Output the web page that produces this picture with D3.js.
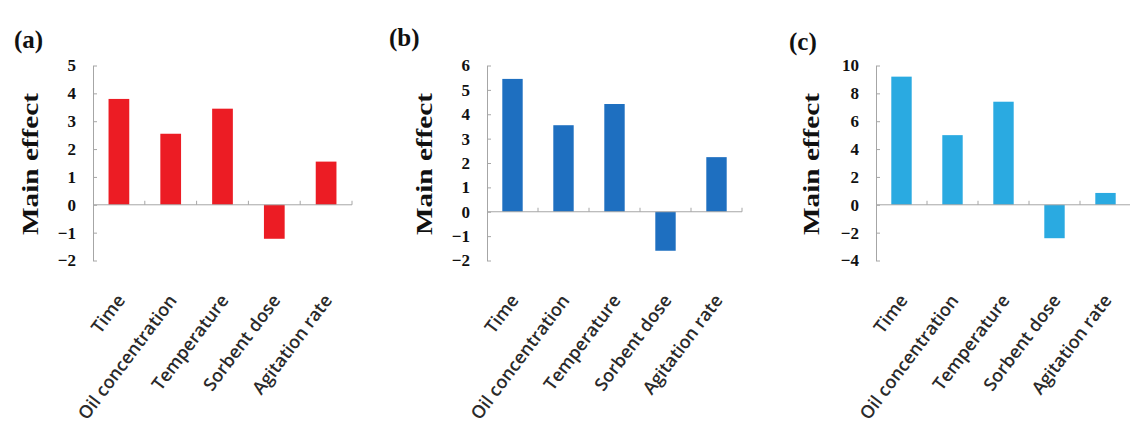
<!DOCTYPE html>
<html>
<head>
<meta charset="utf-8">
<script src="https://cdn.jsdelivr.net/npm/d3@7"></script>
<style>
  body { margin: 0; background: #fff; }
  .tick-num { font-family: "Liberation Serif", "DejaVu Serif", serif; font-weight: bold; font-size: 17px; fill: #111; }
  .ylab { font-family: "Liberation Serif", "DejaVu Serif", serif; font-weight: bold; font-size: 24px; fill: #111; }
  .panel-tag { font-family: "Liberation Serif", "DejaVu Serif", serif; font-weight: bold; font-size: 25px; fill: #111; }
  .cat { font-family: "Open Sans", "Liberation Sans", sans-serif; font-size: 18px; font-weight: 600; fill: #2a2a2a; }
</style>
</head>
<body>
<div id="chart"></div>
<script>
// factors on the x axis
const factors = ["Time", "Oil concentration", "Temperature", "Sorbent dose", "Agitation rate"];

// main effect per factor, one array per panel
const effectsA = [3.8, 2.55, 3.45, -1.22, 1.55];
const effectsB = [5.45, 3.55, 4.42, -1.6, 2.24];
const effectsC = [9.2, 5.0, 7.4, -2.4, 0.85];

// y ticks per panel
const ticksA = [-2, -1, 0, 1, 2, 3, 4, 5];
const ticksB = [-2, -1, 0, 1, 2, 3, 4, 5, 6];
const ticksC = [-4, -2, 0, 2, 4, 6, 8, 10];

const tags = ["(a)", "(b)", "(c)"];
const colors = ["#ec1c24", "#1e6fc0", "#2aaae1"];

const width = 1130, height = 428;
const svg = d3.select("#chart").append("svg")
    .attr("width", width)
    .attr("height", height);

// layout for each panel
const panels = [
    { tag: tags[0], values: effectsA, ticks: ticksA, color: colors[0], x0: 93, x1: 352, ylabX: 30, tagX: 14, tagY: 48 },
    { tag: tags[1], values: effectsB, ticks: ticksB, color: colors[1], x0: 487, x1: 742, ylabX: 424, tagX: 389, tagY: 46 },
    { tag: tags[2], values: effectsC, ticks: ticksC, color: colors[2], x0: 876, x1: 1131, ylabX: 811, tagX: 789, tagY: 50 }
];

const plotTop = 65.5, plotBottom = 260.5;

panels.forEach(p => {
    let g = svg.append("g");

    let y = d3.scaleLinear()
        .domain(d3.extent(p.ticks))
        .range([plotBottom, plotTop]);

    let x = d3.scaleBand()
        .domain(factors)
        .range([p.x0, p.x1])
        .paddingInner(0.6)
        .paddingOuter(0.3);

    let data = factors.map((f, i) => ({ factor: f, value: p.values[i] }));

    // bars
    g.selectAll(".bar")
        .data(data)
        .enter()
        .append("rect")
        .attr("class", "bar")
        .attr("x", d => x(d.factor))
        .attr("width", x.bandwidth())
        .attr("y", d => y(Math.max(0, d.value)))
        .attr("height", d => Math.abs(y(d.value) - y(0)))
        .attr("fill", p.color);

    // y axis
    let yAxis = g.append("g")
        .attr("transform", `translate(${p.x0},0)`)
        .call(d3.axisLeft(y).tickValues(p.ticks).tickFormat(d3.format("d"))
            .tickSizeInner(-4).tickSizeOuter(0).tickPadding(17));
    yAxis.select(".domain").attr("stroke", "#a6a6a6");
    yAxis.selectAll(".tick line").attr("stroke", "#a6a6a6");
    yAxis.selectAll(".tick text").attr("class", "tick-num").attr("fill", null);

    // x axis through zero, ticks between categories
    let step = (p.x1 - p.x0) / factors.length;
    let bounds = d3.range(1, factors.length + 1).map(i => p.x0 + i * step);
    g.append("line")
        .attr("x1", p.x0).attr("x2", p.x1)
        .attr("y1", y(0)).attr("y2", y(0))
        .attr("stroke", "#a6a6a6");
    g.selectAll(".xtick")
        .data(bounds)
        .enter()
        .append("line")
        .attr("class", "xtick")
        .attr("x1", d => d).attr("x2", d => d)
        .attr("y1", y(0) - 4).attr("y2", y(0))
        .attr("stroke", "#a6a6a6");

    // category labels
    g.selectAll(".cat")
        .data(factors)
        .enter()
        .append("text")
        .attr("class", "cat")
        .attr("text-anchor", "end")
        .attr("transform", d => `translate(${x(d) + x.bandwidth() / 2 + 7},${plotBottom + 40}) rotate(-53)`)
        .text(d => d);

    // y label
    g.append("text")
        .attr("class", "ylab")
        .attr("text-anchor", "middle")
        .attr("textLength", 142)
        .attr("lengthAdjust", "spacingAndGlyphs")
        .attr("transform", `translate(${p.ylabX + 8},${(plotTop + plotBottom) / 2 + 1}) rotate(-90)`)
        .text("Main effect");

    // panel tag
    g.append("text")
        .attr("class", "panel-tag")
        .attr("x", p.tagX)
        .attr("y", p.tagY)
        .text(p.tag);
});
</script>
</body>
</html>
